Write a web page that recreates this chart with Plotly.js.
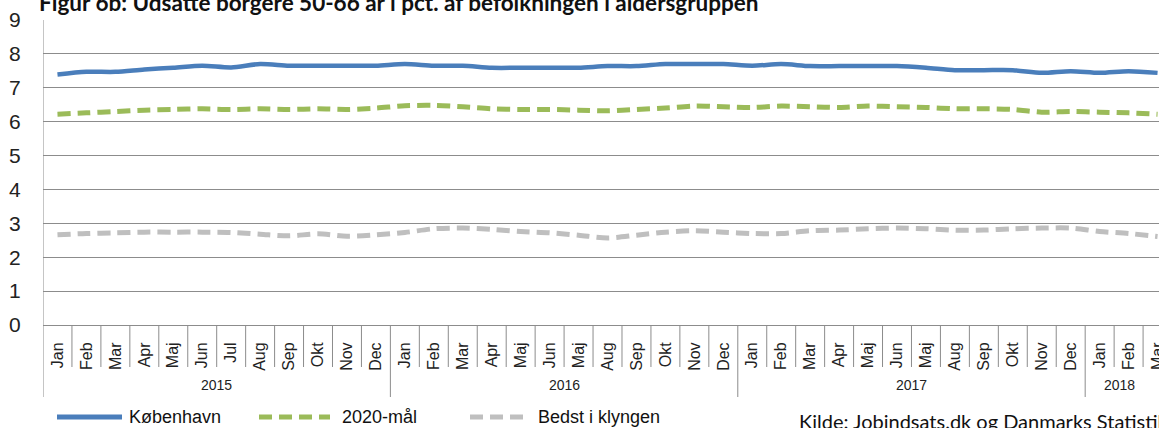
<!DOCTYPE html>
<html>
<head>
<meta charset="utf-8">
<script src="https://cdn.plot.ly/plotly-3.0.1.min.js"></script>
<style>
html,body{margin:0;padding:0;background:#fff;}
#chart{width:1159px;height:428px;}
</style>
</head>
<body>
<div id="chart"></div>
<script>
// Month tick labels (as printed in the source, incl. its "Maj" for July 2016/2017)
var months = ["Jan","Feb","Mar","Apr","Maj","Jun","Jul","Aug","Sep","Okt","Nov","Dec",
              "Jan","Feb","Mar","Apr","Maj","Jun","Maj","Aug","Sep","Okt","Nov","Dec",
              "Jan","Feb","Mar","Apr","Maj","Jun","Maj","Aug","Sep","Okt","Nov","Dec",
              "Jan","Feb","Mar"];
var years = ["2015","2016","2017","2018"];
var yearStart = [0, 12, 24, 36];
var yearLabelPos = [5.5, 17.5, 29.5, 36.7];

var koebenhavn = [7.39,7.47,7.47,7.54,7.59,7.65,7.60,7.70,7.65,7.65,7.65,7.65,
                  7.70,7.65,7.65,7.59,7.59,7.59,7.59,7.64,7.64,7.70,7.70,7.70,
                  7.65,7.70,7.64,7.64,7.64,7.64,7.59,7.52,7.52,7.52,7.44,7.49,
                  7.44,7.49,7.44];
var maal2020 = [6.22,6.26,6.30,6.34,6.36,6.38,6.36,6.38,6.36,6.38,6.36,6.40,
                6.47,6.48,6.44,6.38,6.36,6.36,6.34,6.32,6.36,6.40,6.46,6.44,
                6.42,6.46,6.44,6.42,6.46,6.44,6.42,6.38,6.38,6.36,6.28,6.30,
                6.28,6.26,6.22];
var bedst = [2.66,2.70,2.72,2.74,2.74,2.74,2.73,2.68,2.63,2.69,2.62,2.66,
             2.73,2.84,2.86,2.82,2.76,2.72,2.65,2.57,2.65,2.74,2.78,2.74,
             2.70,2.70,2.78,2.80,2.84,2.86,2.84,2.80,2.80,2.84,2.86,2.86,
             2.76,2.70,2.61];

var seriesNames = ["København","2020-mål","Bedst i klyngen"];
var colors = ["#4A7EBB","#9BBB59","#BFBFBF"];

var xIdx = months.map(function(_, i){ return i; });

var traces = [
  {x:xIdx, y:koebenhavn, name:seriesNames[0], type:"scatter", mode:"lines",
   line:{color:colors[0], width:4.5, shape:"spline", smoothing:0.8}},
  {x:xIdx, y:maal2020, name:seriesNames[1], type:"scatter", mode:"lines",
   line:{color:colors[1], width:5, dash:"13px,7px", shape:"spline", smoothing:0.8}},
  {x:xIdx, y:bedst, name:seriesNames[2], type:"scatter", mode:"lines",
   line:{color:colors[2], width:5, dash:"13px,7px", shape:"spline", smoothing:0.8}}
];

var plotH = 305;
var gridCol = "#8c8c8c";
var shapes = [];
// month separators
for (var i = 0; i < months.length - 1; i++) {
  if (yearStart.indexOf(i + 1) >= 0) continue;
  shapes.push({type:"line", xref:"x", yref:"paper", x0:i+0.5, x1:i+0.5,
               y0:0, y1:-42/plotH, line:{color:gridCol, width:1}});
}
// year separators (incl. left edge)
yearStart.forEach(function(s){
  shapes.push({type:"line", xref:"x", yref:"paper", x0:s-0.5, x1:s-0.5,
               y0:(s===0?1:0), y1:-72/plotH, line:{color:gridCol, width:1}});
});

var annotations = [];
years.forEach(function(y, k){
  annotations.push({text:y, xref:"x", yref:"paper", x:yearLabelPos[k], y:-60/plotH,
    showarrow:false, xanchor:"center", yanchor:"middle",
    font:{family:"Liberation Sans, Arial, sans-serif", size:14, color:"#222"}});
});
// title (cut off at top as in source)
annotations.push({text:"<b>Figur 6b: Udsatte borgere 50-66 år i pct. af befolkningen i aldersgruppen</b>",
  xref:"paper", yref:"paper", x:-6/1116, y:1+18/plotH, xanchor:"left", yanchor:"middle",
  showarrow:false, font:{family:"Lato, sans-serif", size:22.5, color:"#111"}});
// source
annotations.push({text:"Kilde: Jobindsats.dk og Danmarks Statistik",
  xref:"paper", yref:"paper", x:(797-43)/1116, y:-96/plotH, xanchor:"left", yanchor:"middle",
  showarrow:false, font:{family:"Lato, sans-serif", size:20, color:"#111"}});

// custom legend
var legY = -92/plotH;
var legItems = [
  {x0:57, x1:122, tx:127},
  {x0:259, x1:330, tx:340},
  {x0:470, x1:527, tx:536}
];
legItems.forEach(function(it, k){
  var l = {color:colors[k], width:5};
  if (k > 0) l.dash = "13px,7px";
  shapes.push({type:"line", xref:"paper", yref:"paper",
    x0:(it.x0-43)/1116, x1:(it.x1-43)/1116, y0:legY, y1:legY, line:l});
  annotations.push({text:seriesNames[k], xref:"paper", yref:"paper",
    x:(it.tx-43)/1116, y:legY, xanchor:"left", yanchor:"middle", showarrow:false,
    font:{family:"Liberation Sans, Arial, sans-serif", size:18, color:"#111"}});
});

var layout = {
  width:1159, height:428,
  margin:{l:43, r:0, t:20, b:103, pad:0},
  paper_bgcolor:"#fff", plot_bgcolor:"#fff",
  showlegend:false,
  xaxis:{
    range:[-0.5, 38.05], tickmode:"array", tickvals:xIdx, ticktext:months,
    tickangle:-90, showgrid:false, zeroline:false, showline:false,
    ticks:"outside", ticklen:10, tickcolor:"rgba(0,0,0,0)",
    ticklabeloverflow:"allow",
    tickfont:{family:"Liberation Sans, Arial, sans-serif", size:16, color:"#222"},
    fixedrange:true
  },
  yaxis:{
    range:[0, 9], dtick:1, tick0:0, showgrid:true, gridcolor:gridCol, gridwidth:1,
    zeroline:true, zerolinecolor:gridCol, zerolinewidth:1,
    showline:false, ticks:"outside", ticklen:17, tickcolor:"rgba(0,0,0,0)",
    tickfont:{family:"Liberation Sans, Arial, sans-serif", size:21, color:"#222"},
    fixedrange:true
  },
  shapes:shapes,
  annotations:annotations
};

Plotly.newPlot("chart", traces, layout, {displayModeBar:false, staticPlot:true});
</script>
</body>
</html>
